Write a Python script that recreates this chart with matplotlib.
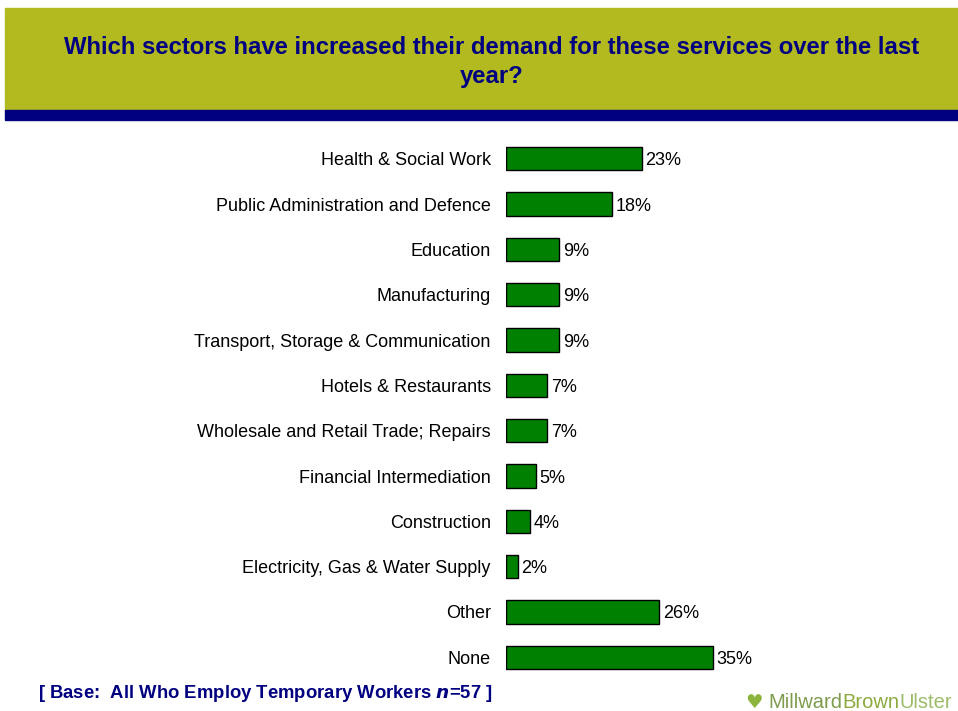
import matplotlib
matplotlib.use('Agg')
import matplotlib.pyplot as plt
from matplotlib.patches import Rectangle

plt.rcParams['font.family'] = ['Liberation Sans', 'DejaVu Sans']

sectors = [
    'Health & Social Work',
    'Public Administration and Defence',
    'Education',
    'Manufacturing',
    'Transport, Storage & Communication',
    'Hotels & Restaurants',
    'Wholesale and Retail Trade; Repairs',
    'Financial Intermediation',
    'Construction',
    'Electricity, Gas & Water Supply',
    'Other',
    'None',
]
pct = [23, 18, 9, 9, 9, 7, 7, 5, 4, 2, 26, 35]

title = 'Which sectors have increased their demand for these services over the last\nyear?'
NAVY = '#000080'
OLIVE = '#B3BA1F'
BAR = '#008000'

W, H = 958, 711
fig = plt.figure(figsize=(W / 100, H / 100), dpi=100)

# header band + navy rule
fig.patches.append(Rectangle((5 / W, 1 - 110 / H), 953 / W, 102 / H,
                             transform=fig.transFigure, color=OLIVE, zorder=0))
fig.patches.append(Rectangle((5 / W, 1 - 120 / H), 953 / W, 10 / H,
                             transform=fig.transFigure, color=NAVY, zorder=0))
fig.text(492 / W, 1 - 62 / H, title, ha='center', va='center', color=NAVY,
         fontsize=17.2, fontweight='bold', linespacing=1.3)

# bar chart area: left edge at x=506, rows ~45px apart
ax = fig.add_axes([506 / W, 1 - 680 / H, 236 / W, 544 / H])
y = list(range(len(sectors)))
ax.barh(y, pct, height=0.52, color=BAR, edgecolor='black', linewidth=1)
for yi, v in zip(y, pct):
    ax.text(v + 0.6, yi, f'{v}%', va='center_baseline', ha='left', fontsize=13)
ax.set_yticks(y)
ax.set_yticklabels(sectors, fontsize=13)
ax.tick_params(axis='y', length=0, pad=11)
ax.set_xticks([])
ax.set_xlim(0, 40)
ax.set_ylim(len(sectors) - 0.5, -0.5)
for s in ax.spines.values():
    s.set_visible(False)
ax.patch.set_alpha(0)

# footer
fig.text(38 / W, 1 - 693 / H, '[ Base:  All Who Employ Temporary Workers $\\boldsymbol{n}$=57 ]',
         ha='left', va='center', color=NAVY, fontsize=13.3, fontweight='bold')

# company mark: heart symbol followed by the three name parts in a row
anchor = fig.text(745 / W, 1 - 700 / H, '\u2665', ha='left', va='center_baseline',
                  color='#8CB43C', fontsize=14, family='DejaVu Sans')
pieces = [('Millward', '#7E9B4E'), ('Brown', '#8CAA3E'), ('Ulster', '#9CBC6A')]
for i, (word, col) in enumerate(pieces):
    anchor = ax.annotate(word, xy=(1, 0.5), xycoords=anchor,
                         xytext=(4 if i == 0 else 0, 0), textcoords='offset points',
                         ha='left', va='center', color=col, fontsize=14.5,
                         annotation_clip=False)

fig.savefig('out.png', dpi=100, facecolor='white')
